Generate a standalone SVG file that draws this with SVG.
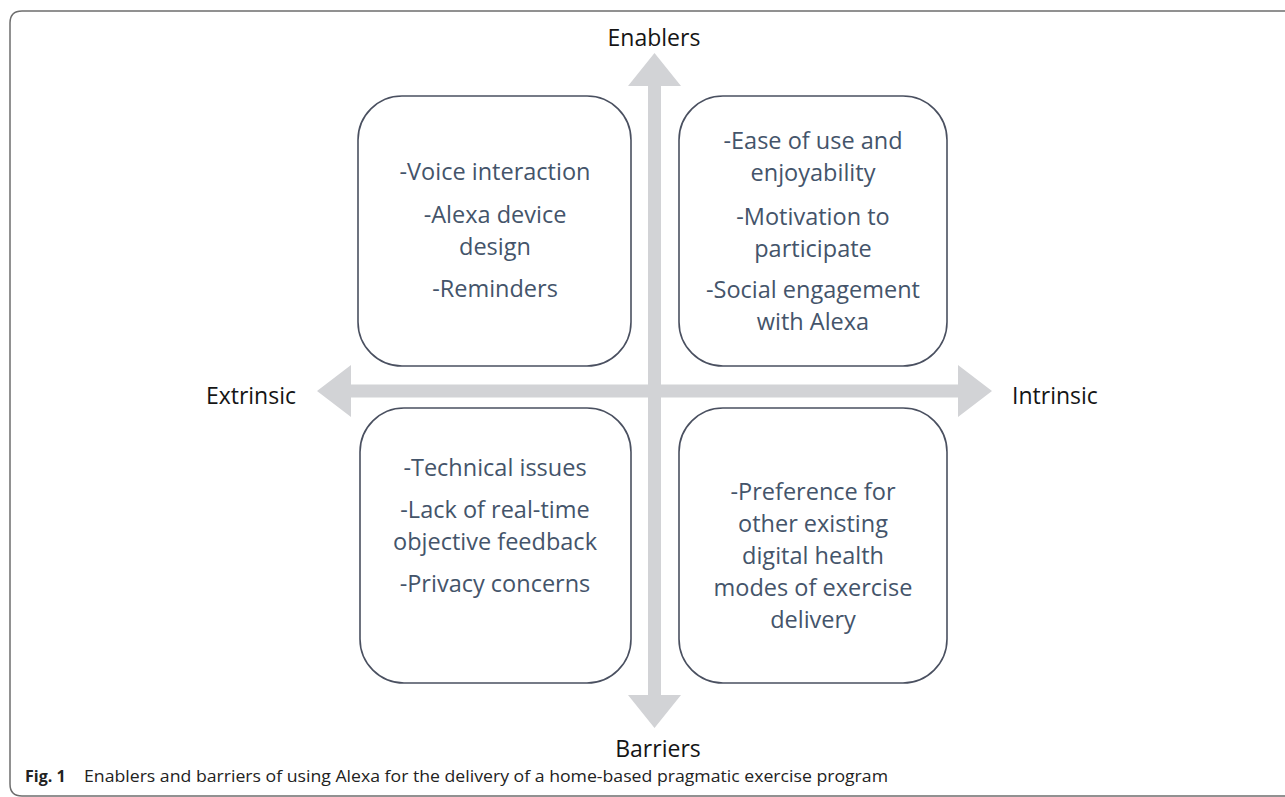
<svg xmlns="http://www.w3.org/2000/svg" width="1285" height="797" viewBox="0 0 1285 797">
<style>
.frame{fill:none;stroke:#6e6e6e;stroke-width:1.5}
.axis{fill:#d2d3d6;stroke:none}
.box{fill:#ffffff;stroke:#4a5060;stroke-width:1.6}
.bt{font-family:"Open Sans","DejaVu Sans",sans-serif;font-size:23.5px;fill:#44546a;text-anchor:middle}
.lab{font-family:"Open Sans","DejaVu Sans",sans-serif;font-size:23px;fill:#151515}
.cap{font-family:"Open Sans","Liberation Sans",sans-serif;font-size:16px;fill:#222222}
</style>
<rect width="1285" height="797" fill="#ffffff"/>
<path class="frame" d="M1290 11 H22 Q10 11 10 23 V784 Q10 796 22 796 H1290"/>
<g id="connectors">
<polygon class="axis" points="317,391 351,365 351,384.5 958,384.5 958,365 992,391 958,417 958,397.5 351,397.5 351,417"/>
<polygon class="axis" points="654.5,53 681,86 661,86 661,695 681,695 654.5,728 628,695 648,695 648,86 628,86"/>
</g>
<g id="label-enablers"><text class="lab" x="654" y="46" text-anchor="middle">Enablers</text></g>
<g id="label-barriers"><text class="lab" x="658" y="757" text-anchor="middle">Barriers</text></g>
<g id="label-extrinsic"><text class="lab" x="296" y="404" text-anchor="end">Extrinsic</text></g>
<g id="label-intrinsic"><text class="lab" x="1012" y="404">Intrinsic</text></g>
<g id="box-tl">
<rect class="box" x="358" y="96" width="273" height="270" rx="44"/>
<text class="bt" x="495" y="180">-Voice interaction</text>
<text class="bt" x="495" y="223">-Alexa device</text>
<text class="bt" x="495" y="255">design</text>
<text class="bt" x="495" y="297">-Reminders</text>
</g>
<g id="box-tr">
<rect class="box" x="679" y="96" width="268" height="270" rx="44"/>
<text class="bt" x="813" y="149">-Ease of use and</text>
<text class="bt" x="813" y="181">enjoyability</text>
<text class="bt" x="813" y="225">-Motivation to</text>
<text class="bt" x="813" y="257">participate</text>
<text class="bt" x="813" y="298">-Social engagement</text>
<text class="bt" x="813" y="330">with Alexa</text>
</g>
<g id="box-bl">
<rect class="box" x="360" y="408" width="271" height="275" rx="44"/>
<text class="bt" x="495" y="476">-Technical issues</text>
<text class="bt" x="495" y="518">-Lack of real-time</text>
<text class="bt" x="495" y="550">objective feedback</text>
<text class="bt" x="495" y="592">-Privacy concerns</text>
</g>
<g id="box-br">
<rect class="box" x="679" y="408" width="268" height="275" rx="44"/>
<text class="bt" x="813" y="500">-Preference for</text>
<text class="bt" x="813" y="532">other existing</text>
<text class="bt" x="813" y="564">digital health</text>
<text class="bt" x="813" y="596">modes of exercise</text>
<text class="bt" x="813" y="628">delivery</text>
</g>
<g id="caption">
<text class="cap" x="25" y="782"><tspan font-weight="bold">Fig. 1</tspan></text>
<text class="cap" x="84" y="782" textLength="804" lengthAdjust="spacingAndGlyphs">Enablers and barriers of using Alexa for the delivery of a home-based pragmatic exercise program</text>
</g>
</svg>
